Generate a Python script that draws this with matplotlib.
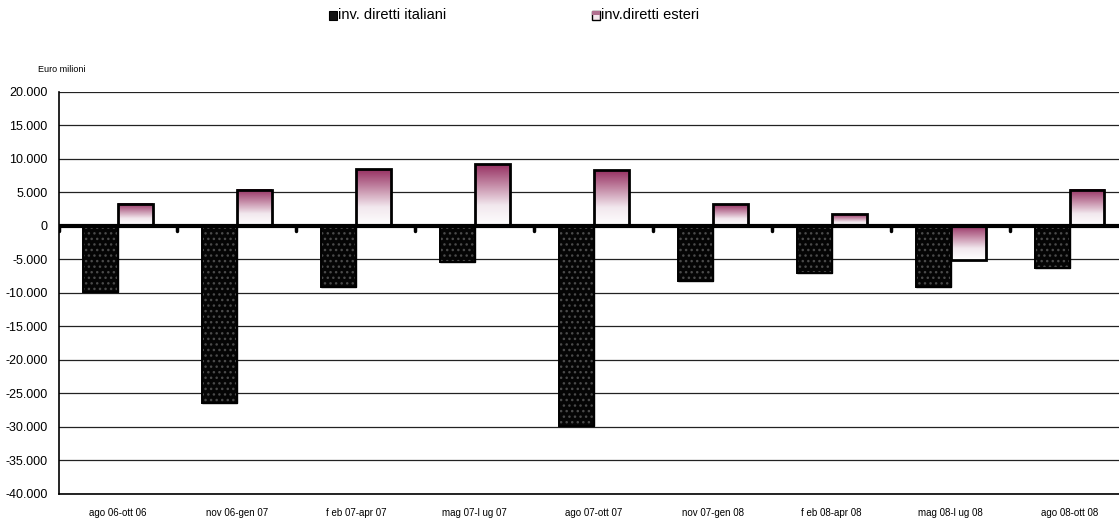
import numpy as np
import matplotlib
matplotlib.use("Agg")
import matplotlib.pyplot as plt
from matplotlib.patches import Rectangle
from matplotlib.colors import LinearSegmentedColormap
from matplotlib.ticker import FuncFormatter

plt.rcParams['font.family'] = ['Liberation Sans', 'DejaVu Sans']

categories = ["ago 06-ott 06", "nov 06-gen 07", "f eb 07-apr 07", "mag 07-l ug 07",
              "ago 07-ott 07", "nov 07-gen 08", "f eb 08-apr 08", "mag 08-l ug 08",
              "ago 08-ott 08"]
italiani = [-9800, -26400, -9200, -5400, -29800, -8300, -7000, -9200, -6300]
esteri = [3300, 5400, 8500, 9200, 8300, 3200, 1700, -5100, 5400]
series_names = ["inv. diretti italiani", "inv.diretti esteri"]
yticks = list(range(-40000, 20001, 5000))

W, H = 1119, 522
fig = plt.figure(figsize=(W / 100, H / 100), dpi=100)
ax = fig.add_axes([58.5 / W, 28 / H, (1129 - 58.5) / W, (494 - 91.7) / H])

x = np.arange(len(categories))
w = 0.294

ax.set_xlim(-0.5, len(categories) - 0.5)
ax.set_ylim(-40000, 20000)

for yv in yticks:
    ax.axhline(yv, color='#222222', lw=0.9, zorder=1)

# black dotted bars
bars_it = ax.bar(x - w, italiani, width=w, align='edge', color='#050505',
                 edgecolor='#050505', lw=1.0, zorder=3)
ax.bar(x - w, italiani, width=w, align='edge', color='none',
       edgecolor='#4a4a4a', hatch='...', lw=0, zorder=3.5)
ax.bar(x - w, italiani, width=w, align='edge', color='none',
       edgecolor='black', lw=1.4, zorder=3.6)

# gradient bars
cmap = LinearSegmentedColormap.from_list('plum', ['#ffffff', '#f2e8ee', '#c48aa6', '#962f61'])
grad = np.linspace(0, 1, 256).reshape(-1, 1)
bars_es = ax.bar(x, esteri, width=w, align='edge', color='none',
                 edgecolor='black', lw=2.0, zorder=4)
for b in bars_es:
    x0, y0 = b.get_x(), b.get_y()
    bw, bh = b.get_width(), b.get_height()
    y_lo, y_hi = min(y0, y0 + bh), max(y0, y0 + bh)
    ax.imshow(grad, cmap=cmap, aspect='auto', origin='lower',
              extent=[x0, x0 + bw, y_lo, y_hi], zorder=3.5, interpolation='bilinear')
ax.set_xlim(-0.5, len(categories) - 0.5)
ax.set_ylim(-40000, 20000)

# zero axis
ax.axhline(0, color='black', lw=3.0, zorder=5)
for b in np.arange(-0.5, len(categories), 1.0):
    ax.plot([b, b], [0, -800], color='black', lw=2.5, solid_capstyle='round', zorder=5)

for s in ['top', 'right']:
    ax.spines[s].set_visible(False)
ax.spines['left'].set_linewidth(1.2)
ax.spines['bottom'].set_linewidth(1.2)

ax.set_yticks(yticks)
ax.yaxis.set_major_formatter(FuncFormatter(lambda v, p: f"{int(v):,}".replace(",", ".")))
ax.tick_params(axis='y', length=0, labelsize=9, pad=8)
ax.set_xticks(x)
ax.set_xticklabels(categories)
ax.tick_params(axis='x', length=0, labelsize=7, pad=10)

# Unit label
fig.text(38 / W, 1 - 69 / H, "Euro milioni", fontsize=6.5, va='center', ha='left')

# Legend
sq = 8
fig.patches.append(Rectangle((329 / W, 1 - 19.5 / H), sq / W, sq / H, transform=fig.transFigure,
                             facecolor='#111111', edgecolor='black', lw=0.8))
fig.text(338 / W, 1 - 15 / H, series_names[0], fontsize=10.5, va='center', ha='left')
fig.patches.append(Rectangle((592 / W, 1 - 19.5 / H), sq / W, sq / H, transform=fig.transFigure,
                             facecolor='#f3e6ec', edgecolor='black', lw=1.0))
fig.patches.append(Rectangle((592 / W, 1 - 14.5 / H), sq / W, 3 / H, transform=fig.transFigure,
                             facecolor='#b06f8f', edgecolor='none', lw=0))
fig.text(601 / W, 1 - 15 / H, series_names[1], fontsize=10.5, va='center', ha='left')

fig.savefig("out.png", dpi=100)
